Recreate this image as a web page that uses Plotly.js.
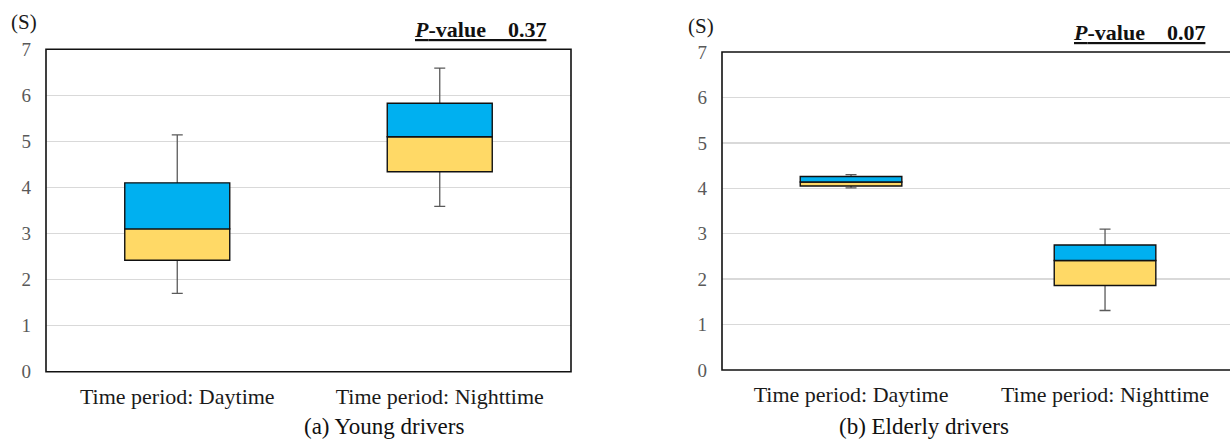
<!DOCTYPE html>
<html>
<head>
<meta charset="utf-8">
<script src="https://cdn.plot.ly/plotly-3.0.1.min.js"></script>
<style>html,body{margin:0;padding:0;background:#fff;}#chart{width:1230px;height:440px;}</style>
</head>
<body>
<div id="chart"></div>
<script>
// ---- data ----
const categories = ['Time period: Daytime', 'Time period: Nighttime'];
const yTickVals = [0, 1, 2, 3, 4, 5, 6, 7];
const yTickText = ['0', '1', '2', '3', '4', '5', '6', '7'];

// (a) Young drivers
const youngLowerFence = [1.70, 3.59];
const youngQ1         = [2.42, 4.34];
const youngMedian     = [3.10, 5.10];
const youngQ3         = [4.10, 5.83];
const youngUpperFence = [5.14, 6.59];
const youngPValue = '0.37';

// (b) Elderly drivers
const elderLowerFence = [4.01, 1.31];
const elderQ1         = [4.05, 1.86];
const elderMedian     = [4.14, 2.41];
const elderQ3         = [4.26, 2.75];
const elderUpperFence = [4.30, 3.10];
const elderPValue = '0.07';

const panelCaptions = ['(a) Young drivers', '(b) Elderly drivers'];
const unitLabel = '(S)';

// ---- styles ----
const SERIF = 'Liberation Serif, Times New Roman, serif';
const BLUE = '#00B0F0';
const YELLOW = '#FFD966';
const BOXW = 0.4;

function diff(a, b) { return a.map((v, i) => v - b[i]); }

function panelTraces(lf, q1, med, q3, uf, xa, ya) {
  const common = {type: 'bar', x: categories, xaxis: xa, yaxis: ya, width: BOXW,
                  hoverinfo: 'skip', showlegend: false};
  return [
    // whiskers: transparent Q1..Q3 bar carrying the LF..UF error bar (drawn first, underneath)
    Object.assign({}, common, {
      base: q1, y: diff(q3, q1),
      marker: {color: 'rgba(0,0,0,0)', line: {width: 0}},
      error_y: {type: 'data', symmetric: false, array: diff(uf, q3), arrayminus: diff(q3, lf),
                color: '#5a5a5a', thickness: 1.3, width: 5.5}
    }),
    // lower half of box (Q1 -> median, yellow)
    Object.assign({}, common, {
      base: q1, y: diff(med, q1),
      marker: {color: YELLOW, line: {color: '#111', width: 1.4}}
    }),
    // upper half of box (median -> Q3, blue)
    Object.assign({}, common, {
      base: med, y: diff(q3, med),
      marker: {color: BLUE, line: {color: '#111', width: 1.4}}
    })
  ];
}

const data = [].concat(
  panelTraces(youngLowerFence, youngQ1, youngMedian, youngQ3, youngUpperFence, 'x', 'y'),
  panelTraces(elderLowerFence, elderQ1, elderMedian, elderQ3, elderUpperFence, 'x2', 'y2')
);

function yAxis(domain, anchor) {
  return {
    domain: domain, anchor: anchor, range: [0, 7],
    tickvals: yTickVals, ticktext: yTickText,
    showgrid: true, gridcolor: '#d9d9d9', gridwidth: 1.5,
    zeroline: false, showline: false, ticks: '',
    ticklabelstandoff: 14,
    tickfont: {family: SERIF, size: 19, color: '#595959'},
    fixedrange: true
  };
}
function xAxis(domain, anchor, range) {
  return {
    domain: domain, anchor: anchor, type: 'category',
    categoryorder: 'array', categoryarray: categories, range: range,
    showgrid: false, zeroline: false, showline: false, ticks: '',
    ticklabelstandoff: 9,
    tickfont: {family: SERIF, size: 22, color: '#1a1a1a'},
    fixedrange: true
  };
}

function pText(v) {
  const sp = '\u00A0\u00A0\u00A0\u00A0';
  return '<span style="text-decoration:underline"><b><i>P</i>-value' + sp + v + '</b></span>';
}

const layout = {
  width: 1230, height: 440,
  margin: {l: 0, r: 0, t: 0, b: 0},
  paper_bgcolor: '#ffffff', plot_bgcolor: '#ffffff',
  barmode: 'overlay',
  showlegend: false,
  xaxis: xAxis([46 / 1230, 571 / 1230], 'y', [-0.5, 1.5]),
  yaxis: yAxis([1 - 371.7 / 440, 1 - 49.3 / 440], 'x'),
  xaxis2: xAxis([722 / 1230, 1], 'y2', [-0.508, 1.492]),
  yaxis2: yAxis([1 - 370 / 440, 1 - 52 / 440], 'x2'),
  shapes: [
    {type: 'rect', xref: 'x domain', yref: 'y domain', x0: 0, x1: 1, y0: 0, y1: 1,
     line: {color: '#111', width: 1.6}, layer: 'above'},
    {type: 'rect', xref: 'x2 domain', yref: 'y2 domain', x0: 0, x1: 1.05, y0: 0, y1: 1,
     line: {color: '#111', width: 1.6}, layer: 'above'}
  ],
  annotations: [
    {text: unitLabel, xref: 'paper', yref: 'paper', x: 24 / 1230, y: 1 - 22 / 440,
     xanchor: 'center', yanchor: 'middle', showarrow: false,
     font: {family: SERIF, size: 21, color: '#1a1a1a'}},
    {text: unitLabel, xref: 'paper', yref: 'paper', x: 701 / 1230, y: 1 - 26 / 440,
     xanchor: 'center', yanchor: 'middle', showarrow: false,
     font: {family: SERIF, size: 21, color: '#1a1a1a'}},
    {text: pText(youngPValue), xref: 'paper', yref: 'paper', x: 548 / 1230, y: 1 - 29 / 440,
     xanchor: 'right', yanchor: 'middle', showarrow: false,
     font: {family: SERIF, size: 22, color: '#111'}},
    {text: pText(elderPValue), xref: 'paper', yref: 'paper', x: 1207 / 1230, y: 1 - 33 / 440,
     xanchor: 'right', yanchor: 'middle', showarrow: false,
     font: {family: SERIF, size: 22, color: '#111'}},
    {text: panelCaptions[0], xref: 'paper', yref: 'paper', x: 384 / 1230, y: 1 - 426 / 440,
     xanchor: 'center', yanchor: 'middle', showarrow: false,
     font: {family: SERIF, size: 23, color: '#111'}},
    {text: panelCaptions[1], xref: 'paper', yref: 'paper', x: 924 / 1230, y: 1 - 426 / 440,
     xanchor: 'center', yanchor: 'middle', showarrow: false,
     font: {family: SERIF, size: 23, color: '#111'}}
  ]
};

Plotly.newPlot('chart', data, layout, {displayModeBar: false, staticPlot: true});
</script>
</body>
</html>
